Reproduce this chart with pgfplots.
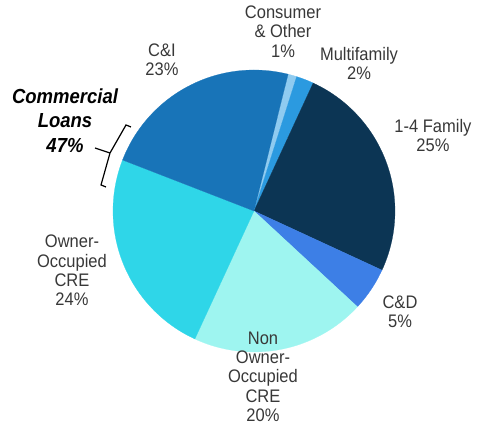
\documentclass[border=0pt]{standalone}
\usepackage{pgfplots}
\pgfplotsset{compat=1.18}
\usepackage{fontspec}
\setmainfont{Liberation Sans}
\definecolor{cons}{HTML}{8FCBF0}
\definecolor{multi}{HTML}{2B9AE0}
\definecolor{fam}{HTML}{0C3554}
\definecolor{cd}{HTML}{3D7FE6}
\definecolor{non}{HTML}{9EF5F0}
\definecolor{occ}{HTML}{2FD6E8}
\definecolor{ci}{HTML}{1874B8}
\definecolor{txt}{HTML}{383838}
% slice values (percent), clockwise from top
\def\vCons{1}\def\vMulti{2}\def\vFam{25}\def\vCD{5}\def\vNon{20}\def\vOcc{24}\def\vCI{23}
\def\startAng{76}
\newcommand\lab[1]{\scalebox{1}[1.1]{\begin{tabular}{@{}c@{}}#1\end{tabular}}}
\begin{document}
\begin{tikzpicture}[x=1pt,y=1pt]
\useasboundingbox (0,0) rectangle (477,433);
\pgfmathsetmacro\aA{\startAng-3.6*\vCons}
\pgfmathsetmacro\aB{\aA-3.6*\vMulti}
\pgfmathsetmacro\aC{\aB-3.6*\vFam}
\pgfmathsetmacro\aD{\aC-3.6*\vCD}
\pgfmathsetmacro\aE{\aD-3.6*\vNon}
\pgfmathsetmacro\aF{\aE-3.6*\vOcc}
\pgfmathsetmacro\aG{\aF-3.6*\vCI}
\begin{axis}[at={(254pt,222pt)}, anchor=center, scale only axis,
  width=282pt, height=282pt, xmin=-1, xmax=1, ymin=-1, ymax=1,
  axis lines=none, clip=false]
\addplot[fill=cons, draw=cons, line width=0.2pt, domain=\aA:\startAng, samples=10, variable=\t] ({cos(\t)},{sin(\t)}) -- (axis cs:0,0) -- cycle;
\addplot[fill=multi, draw=multi, line width=0.2pt, domain=\aB:\aA, samples=10, variable=\t] ({cos(\t)},{sin(\t)}) -- (axis cs:0,0) -- cycle;
\addplot[fill=fam, draw=fam, line width=0.2pt, domain=\aC:\aB, samples=60, variable=\t] ({cos(\t)},{sin(\t)}) -- (axis cs:0,0) -- cycle;
\addplot[fill=cd, draw=cd, line width=0.2pt, domain=\aD:\aC, samples=15, variable=\t] ({cos(\t)},{sin(\t)}) -- (axis cs:0,0) -- cycle;
\addplot[fill=non, draw=non, line width=0.2pt, domain=\aE:\aD, samples=50, variable=\t] ({cos(\t)},{sin(\t)}) -- (axis cs:0,0) -- cycle;
\addplot[fill=occ, draw=occ, line width=0.2pt, domain=\aF:\aE, samples=60, variable=\t] ({cos(\t)},{sin(\t)}) -- (axis cs:0,0) -- cycle;
\addplot[fill=ci, draw=ci, line width=0.2pt, domain=\aG:\aF, samples=60, variable=\t] ({cos(\t)},{sin(\t)}) -- (axis cs:0,0) -- cycle;
\end{axis}
\tikzset{lab/.style={text=txt, font=\fontsize{16.5}{17.5}\selectfont, inner sep=0pt}}
\node[lab] at (283,433-34) {\lab{Consumer\\\& Other\\1\%}};
\node[lab] at (162,433-62) {\lab{C\&I\\23\%}};
\node[lab] at (359,433-66) {\lab{Multifamily\\2\%}};
\node[lab] at (433,433-138) {\lab{1-4 Family\\25\%}};
\node[lab] at (400,433-314) {\lab{C\&D\\5\%}};
\node[lab] at (263,433-379) {\lab{Non\\Owner-\\Occupied\\CRE\\20\%}};
\node[lab] at (72,433-273) {\lab{Owner-\\Occupied\\CRE\\24\%}};
\node[inner sep=0pt, font=\fontsize{18.5}{22}\selectfont\bfseries\itshape] at (65,433-123) {\lab{Commercial\\Loans\\47\%}};
\draw[line width=1.2pt] (131,433-127) -- (126,433-125) -- (110,433-153) -- (101,433-185) -- (106,433-187);
\draw[line width=1.2pt] (110,433-153) -- (95,433-148);
\end{tikzpicture}
\end{document}
